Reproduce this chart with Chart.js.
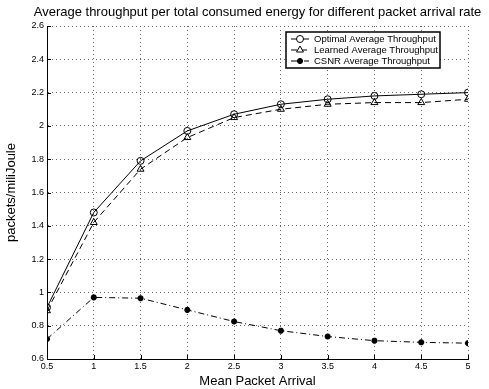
<!DOCTYPE html>
<html>
<head>
<meta charset="utf-8">
<script src="https://cdn.jsdelivr.net/npm/chart.js@4/dist/chart.umd.min.js"></script>
<style>
  html, body { margin: 0; padding: 0; background: #fff; }
  #wrap { width: 489px; height: 389px; }
</style>
</head>
<body>
<div id="wrap"><canvas id="grafico" width="489" height="389"></canvas></div>
<script>
// dados
const arrivals = [0.5, 1, 1.5, 2, 2.5, 3, 3.5, 4, 4.5, 5];
const optimal = [0.91, 1.48, 1.79, 1.97, 2.07, 2.13, 2.16, 2.18, 2.19, 2.20];
const learned = [0.89, 1.42, 1.74, 1.93, 2.05, 2.10, 2.13, 2.14, 2.14, 2.16];
const csnr = [0.72, 0.97, 0.965, 0.895, 0.825, 0.77, 0.735, 0.71, 0.70, 0.695];
const xTicks = [0.5, 1, 1.5, 2, 2.5, 3, 3.5, 4, 4.5, 5];
const yTicks = [0.6, 0.8, 1, 1.2, 1.4, 1.6, 1.8, 2, 2.2, 2.4, 2.6];
const titulo = "Average throughput per total consumed energy for different packet arrival rate";

function pares(ys) {
  return arrivals.map(function (x, i) { return { x: x, y: ys[i] }; });
}

const fonte = "'Liberation Sans', Arial, Helvetica, sans-serif";

// titulo centrado sobre a area do grafico, como no matlab
const tituloPlugin = {
  id: "tituloPlugin",
  afterDraw: function (chart) {
    const ctx = chart.ctx;
    const a = chart.chartArea;
    ctx.save();
    ctx.fillStyle = "#000";
    ctx.font = "13px " + fonte;
    ctx.textAlign = "center";
    ctx.textBaseline = "middle";
    ctx.fillText(titulo, (a.left + a.right) / 2, 12);
    ctx.restore();
  },
};

// pequenos ticks para dentro nos eixos de baixo e da esquerda
const ticksPlugin = {
  id: "ticksPlugin",
  afterDraw: function (chart) {
    const ctx = chart.ctx;
    const a = chart.chartArea;
    const sx = chart.scales.x;
    const sy = chart.scales.y;
    ctx.save();
    ctx.strokeStyle = "#000";
    ctx.lineWidth = 1;
    ctx.beginPath();
    xTicks.forEach(function (v) {
      const px = Math.round(sx.getPixelForValue(v)) + 0.5;
      ctx.moveTo(px, a.bottom);
      ctx.lineTo(px, a.bottom - 4);
    });
    yTicks.forEach(function (v) {
      const py = Math.round(sy.getPixelForValue(v)) + 0.5;
      ctx.moveTo(a.left, py);
      ctx.lineTo(a.left + 4, py);
    });
    ctx.stroke();
    ctx.restore();
  },
};

// legenda com linha + marcador dentro de caixa
const legendaPlugin = {
  id: "legendaPlugin",
  afterDraw: function (chart) {
    const ctx = chart.ctx;
    const x0 = 286, y0 = 32, w = 154, h = 36;
    ctx.save();
    ctx.fillStyle = "#fff";
    ctx.fillRect(x0, y0, w, h);
    ctx.strokeStyle = "#000";
    ctx.lineWidth = 1.5;
    ctx.strokeRect(x0, y0, w, h);
    chart.data.datasets.forEach(function (ds, i) {
      const yy = y0 + 7 + i * 11;
      ctx.strokeStyle = "#000";
      ctx.lineWidth = 1;
      ctx.setLineDash(ds.borderDash || []);
      ctx.beginPath();
      ctx.moveTo(x0 + 5, yy);
      ctx.lineTo(x0 + 23, yy);
      ctx.stroke();
      ctx.setLineDash([]);
      ctx.fillStyle = ds.pointStyle === "star" ? "#000" : "#fff";
      ctx.lineWidth = ds.pointBorderWidth;
      Chart.helpers.drawPoint(ctx, {
        pointStyle: ds.pointStyle,
        radius: ds.pointRadius,
        borderWidth: ds.pointBorderWidth,
      }, x0 + 14, yy);
      ctx.fillStyle = "#000";
      ctx.font = "9.5px " + fonte;
      ctx.textAlign = "left";
      ctx.textBaseline = "middle";
      ctx.fillText(ds.label, x0 + 28, yy);
    });
    ctx.restore();
  },
};

const ctx = document.getElementById("grafico").getContext("2d");
new Chart(ctx, {
  type: "line",
  data: {
    datasets: [
      {
        label: "Optimal Average Throughput",
        data: pares(optimal),
        borderColor: "#000",
        borderWidth: 1,
        backgroundColor: "rgba(255,255,255,0)",
        pointStyle: "circle",
        pointRadius: 3.5,
        pointBorderColor: "#000",
        pointBorderWidth: 1,
        pointBackgroundColor: "rgba(255,255,255,0)",
        tension: 0,
      },
      {
        label: "Learned Average Throughput",
        data: pares(learned),
        borderColor: "#000",
        borderWidth: 1,
        borderDash: [6, 4],
        backgroundColor: "rgba(255,255,255,0)",
        pointStyle: "triangle",
        pointRadius: 4,
        pointBorderColor: "#000",
        pointBorderWidth: 1,
        pointBackgroundColor: "rgba(255,255,255,0)",
        tension: 0,
      },
      {
        label: "CSNR Average Throughput",
        data: pares(csnr),
        borderColor: "#000",
        borderWidth: 1,
        borderDash: [6, 3, 1, 3],
        backgroundColor: "rgba(255,255,255,0)",
        pointStyle: "star",
        pointRadius: 3,
        pointBorderColor: "#000",
        pointBorderWidth: 2,
        pointBackgroundColor: "#000",
        tension: 0,
      },
    ],
  },
  options: {
    responsive: false,
    animation: false,
    layout: { padding: { top: 26, right: 21, left: 4, bottom: 0 } },
    plugins: {
      legend: { display: false },
      title: { display: false },
      tooltip: { enabled: false },
    },
    scales: {
      x: {
        type: "linear",
        min: 0.5,
        max: 5,
        afterBuildTicks: function (scale) {
          scale.ticks = xTicks.map(function (v) { return { value: v }; });
        },
        afterFit: function (scale) { scale.height = 30; },
        ticks: {
          color: "#000",
          padding: 2,
          maxRotation: 0,
          font: { size: 9, family: fonte },
          callback: function (v) { return String(v); },
        },
        grid: {
          color: "#666",
          lineWidth: 1,
          drawTicks: false,
        },
        border: { display: true, color: "#000", width: 1, dash: [1, 3] },
        title: {
          display: true,
          text: "Mean Packet Arrival",
          color: "#000",
          padding: { top: 0, bottom: 0 },
          font: { size: 13, family: fonte },
        },
      },
      y: {
        type: "linear",
        min: 0.6,
        max: 2.6,
        afterBuildTicks: function (scale) {
          scale.ticks = yTicks.map(function (v) { return { value: v }; });
        },
        afterFit: function (scale) { scale.width = 43; },
        ticks: {
          color: "#000",
          padding: 3,
          font: { size: 9, family: fonte },
          callback: function (v) { return String(v); },
        },
        grid: {
          color: "#666",
          lineWidth: 1,
          drawTicks: false,
        },
        border: { display: true, color: "#000", width: 1, dash: [1, 3] },
        title: {
          display: true,
          text: "packets/miliJoule",
          color: "#000",
          padding: { top: 0, bottom: 4 },
          font: { size: 13, family: fonte },
        },
      },
    },
  },
  plugins: [tituloPlugin, ticksPlugin, legendaPlugin],
});
</script>
</body>
</html>
